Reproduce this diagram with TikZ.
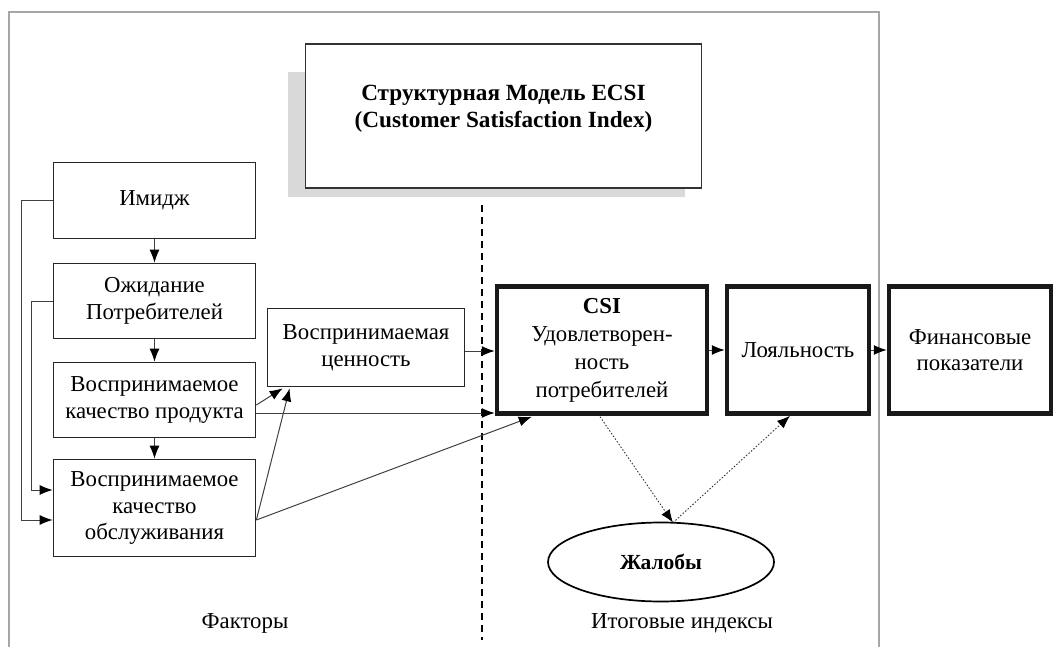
\documentclass[tikz,border=0pt]{standalone}
\usepackage{fontspec}
\setmainfont{Liberation Serif}
\usetikzlibrary{arrows.meta,calc,shapes.geometric}
\begin{document}
\begin{tikzpicture}[x=1pt,y=-1pt,
  every node/.style={font=\fontsize{22.8}{26.5}\selectfont, align=center, inner sep=0pt},
  thinbox/.style={draw=black!85, line width=1.7pt, rectangle, minimum width=202pt},
  thickbox/.style={draw=black!90, line width=4.5pt, rectangle, minimum height=127pt},
  conn/.style={draw=black!75, line width=1pt, -{Latex[length=13pt,width=10pt,color=black]}},
  dotconn/.style={draw=black!80, line width=0.9pt, dash pattern=on 1.5pt off 1.8pt, -{Latex[length=13pt,width=10pt,color=black]}},
  oval/.style={draw=black, line width=1.7pt, ellipse, minimum width=226pt, minimum height=79pt},
  caption/.style={font=\fontsize{22.8}{27}\selectfont}
]
\useasboundingbox (0,0) rectangle (1058,647);

% frame
\draw[black!35, line width=1.3pt] (9,647) -- (9,12) -- (879,12) -- (879,647);

% title with shadow
\fill[black!15] (288,72) rectangle (685,197);
\node[draw=black!80, fill=white, line width=1.4pt, minimum width=396pt, minimum height=144pt] (title) at (503.5,116) {};
\node[font=\bfseries\fontsize{23.2}{27}\selectfont] (titletext) at (503.5,108.5) {Структурная Модель ECSI\\(Customer Satisfaction Index)};

% dashed divider
\draw[black, line width=1.6pt, dash pattern=on 7pt off 5pt] (482,205) -- (482,640);

% left column
\node[thinbox, minimum height=76pt] (img) at (154.5,200.5) {Имидж};
\node[thinbox, minimum height=75pt] (exp) at (154.5,301) {Ожидание\\Потребителей};
\node[thinbox, minimum height=75pt] (qp) at (154.5,400) {Воспринимаемое\\качество продукта};
\node[thinbox, minimum height=97pt] (qs) at (154.5,508) {Воспринимаемое\\качество\\обслуживания};

% perceived value
\node[draw=black!85, line width=1.7pt, rectangle, minimum width=197pt, minimum height=78pt] (val) at (366,347.5) {Воспринимаемая\\ценность};

% result boxes
\node[thickbox, minimum width=210pt, font=\fontsize{22.8}{28}\selectfont] (csi) at (602,350) {\textbf{CSI}\\Удовлетворен-\\ность\\потребителей};
\node[thickbox, minimum width=142pt] (loy) at (798,350) {Лояльность};
\node[thickbox, minimum width=162pt] (fin) at (970,350) {Финансовые\\показатели};

% complaints
\node[oval, font=\bfseries\fontsize{21.5}{27}\selectfont] (compl) at (661,562) {Жалобы};

% captions
\node[caption] (fact) at (245,623) {Факторы};
\node[caption] (res) at (682,623) {Итоговые индексы};

% vertical chain
\draw[conn] (img.south) -- (exp.north);
\draw[conn] (exp.south) -- (qp.north);
\draw[conn] (qp.south) -- (qs.north);

% feedback lines on the left
\draw[conn] (img.west) -- ++(-31,0) |- ($(qs.west)+(0,12)$);
\draw[conn] (exp.west) -- ++(-21,0) |- ($(qs.west)+(0,-18)$);

% to perceived value
\draw[conn] ($(qp.east)+(0,5)$) -- ($(val.south west)+(16,1)$);
\draw[conn] ($(qs.east)+(0,12)$) -- ($(val.south west)+(23,1)$);

% to CSI
\draw[conn] ($(qp.east)+(0,13)$) coordinate (a1) -- (a1 -| csi.west);
\draw[conn] ($(qs.east)+(0,12)$) -- ($(csi.south west)+(37,1)$);
\draw[conn] ($(val.east)+(0,3.5)$) coordinate (a2) -- (a2 -| csi.west);

% chain of results
\draw[conn] (csi.east) -- (loy.west);
\draw[conn] (loy.east) -- (fin.west);

% dotted
\draw[dotconn] ($(csi.south)+(-2,1)$) -- ($(compl.north)+(12,1)$) coordinate (cp);
\draw[dotconn] (cp) -- ($(loy.south)+(-8,0)$);
\end{tikzpicture}
\end{document}
